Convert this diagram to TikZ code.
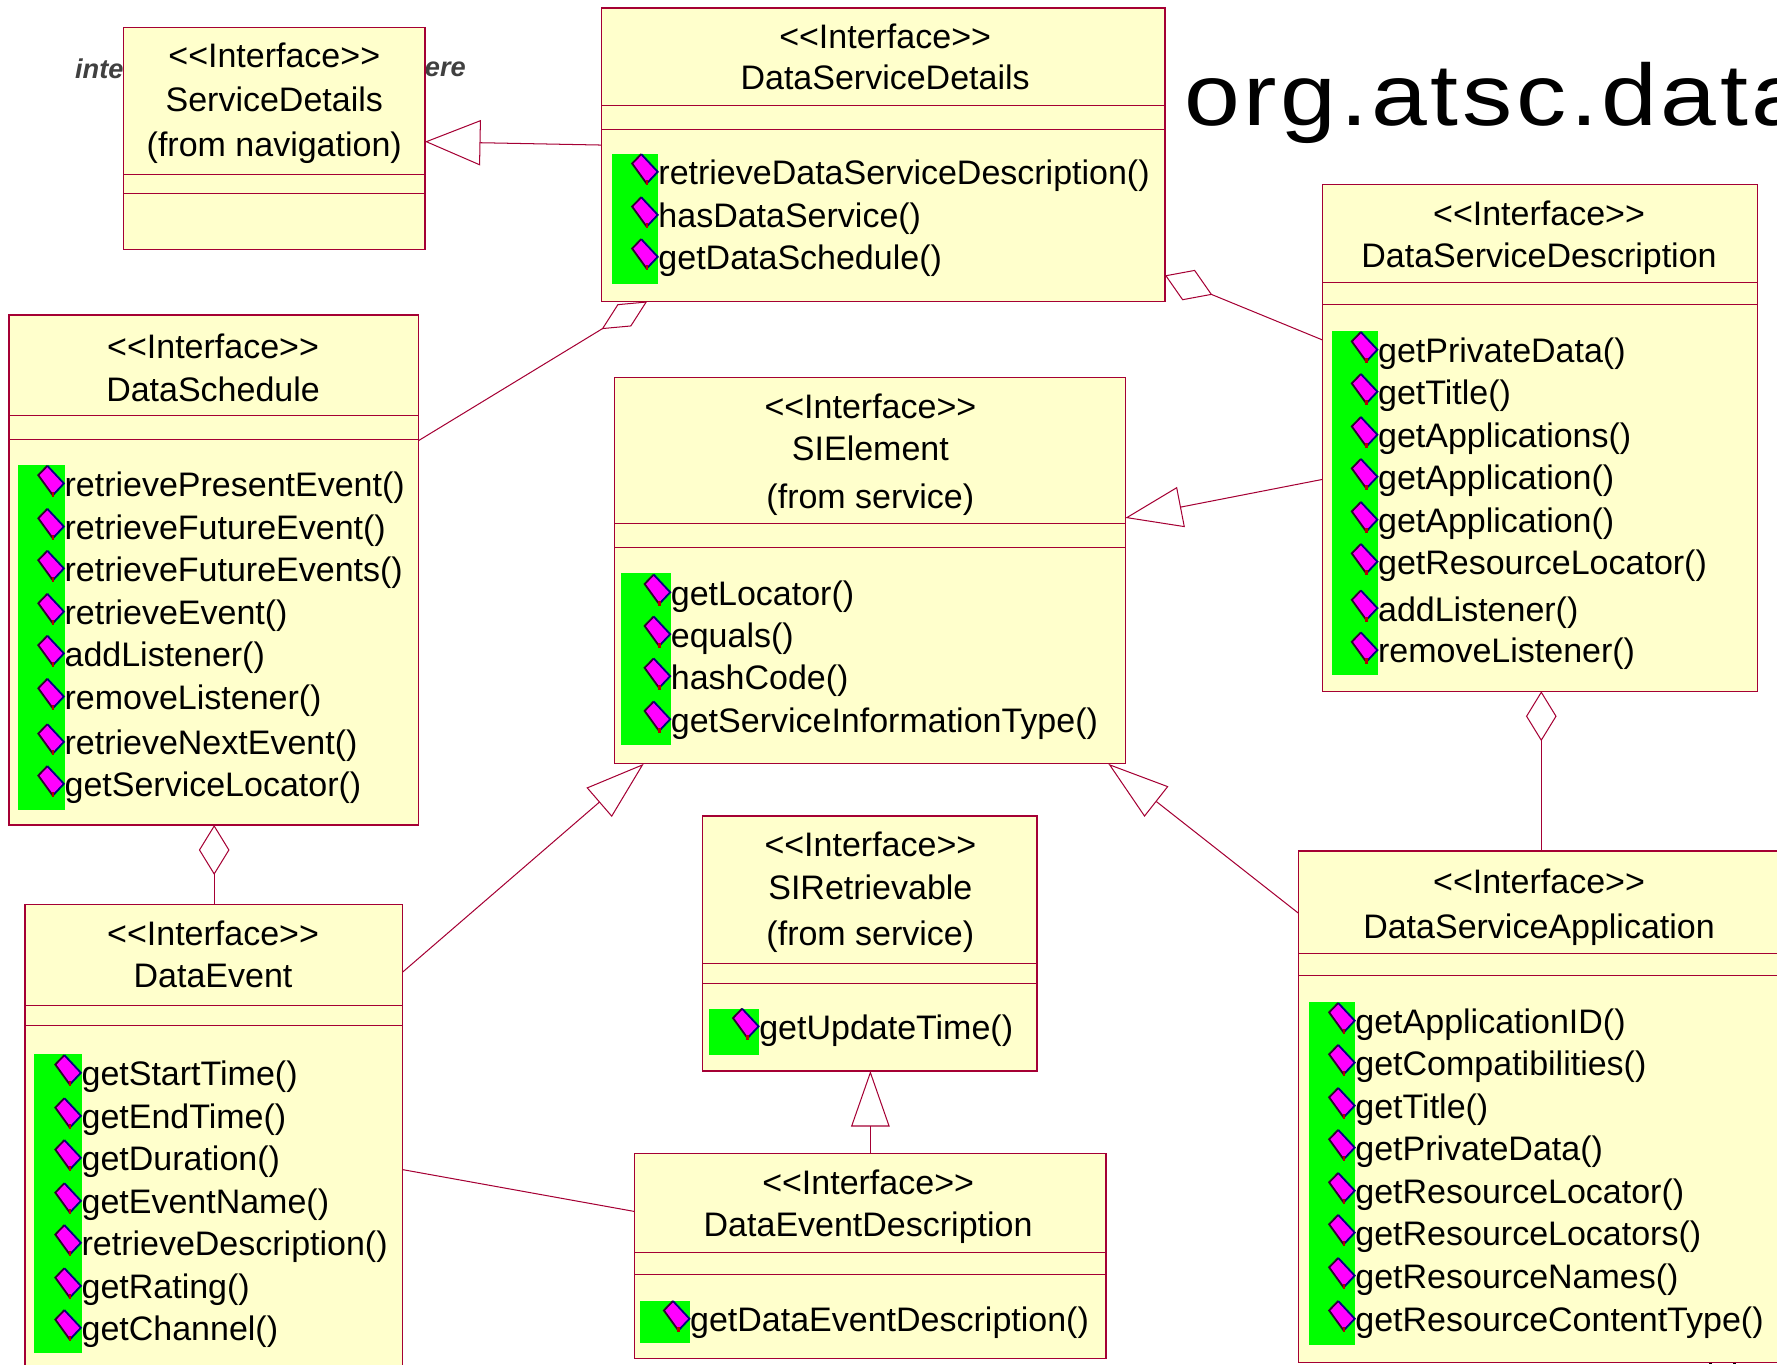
\documentclass[tikz,border=0pt]{standalone}
\usepackage{fontspec}
\usepackage{graphicx}
\setmainfont{Liberation Sans}
\newfontfamily\bigfont[LetterSpace=3.6]{Liberation Sans}
\usetikzlibrary{fit,arrows.meta}
\pgfdeclarelayer{bg}
\pgfsetlayers{bg,main}
\definecolor{umlline}{HTML}{A50034}
\definecolor{umlfill}{HTML}{FFFFCC}
\definecolor{iconblue}{HTML}{000080}
\definecolor{icondark}{HTML}{300030}
\definecolor{iconpink}{HTML}{FF00FF}
\definecolor{icongreen}{HTML}{00FF00}
\tikzset{
  umlbox/.style={draw=umlline,fill=umlfill,line width=1.1pt,inner sep=0pt,outer sep=0pt},
  sepline/.style={draw=umlline,line width=0.9pt},
  titletext/.style={inner sep=0pt,outer sep=0pt,anchor=center,text height=22pt,text depth=0pt,font=\fontsize{30}{32}\selectfont,text=black},
  methodtext/.style={inner sep=0pt,outer sep=0pt,anchor=west,text height=22pt,text depth=0pt,font=\fontsize{30}{32}\selectfont,text=black},
  conn/.style={draw=umlline,line width=0.9pt,line join=miter},
  gentip/.style args={#1/#2}{-{Triangle[open,fill=white,length=#1pt,width=#2pt]}},
  aggtip/.style args={#1/#2}{-{Diamond[open,fill=white,length=#1pt,width=#2pt]}},
  hiddentext/.style={inner sep=0pt,outer sep=0pt,font=\fontsize{24}{26}\selectfont\bfseries\itshape,text=black!75},
  bigtext/.style={inner sep=0pt,outer sep=0pt,anchor=base west,font=\bigfont\fontsize{77}{80}\selectfont,text=black},
}
% name, x1, y1, x2, y2, sep1, sep2
\newcommand{\umlclass}[7]{%
  \node[umlbox,fit={(#2,#3)(#4,#5)}] (#1) {};
  \draw[sepline] (#1.west |- 0,#6) -- (#1.east |- 0,#6);
  \draw[sepline] (#1.west |- 0,#7) -- (#1.east |- 0,#7);
}
% box name, centre x, list text/y
\newcommand{\umltitle}[3]{%
  \foreach \t/\y in {#3}{\node[titletext] (#1-t\y) at (#2,\y) {\t};}
}
\newcommand{\umlicon}[2]{%
  \begin{scope}[shift={(#1,#2)}]
    \fill[iconpink] (-3.2,-13)--(11.4,2.6)--(1.6,13)--(-11.2,-4.7)--cycle;
    \draw[icondark,line width=1.6pt] (1.6,13)--(-11.2,-4.7)--(-3.2,-13);
    \draw[iconblue,line width=1.6pt] (-3.2,-13)--(11.4,2.6)--(1.6,13);
    \fill[red!70!black] (0.6,10) rectangle (3,14.5);
  \end{scope}
}
% box name, green x1, green y1, green y2, text x, list text/y
\newcommand{\umlmethods}[6]{%
  \fill[icongreen] (#2,#3) rectangle (#5,#4);
  \foreach \t/\y in {#6}{%
    \pgfmathsetmacro{\ix}{#5-12}\pgfmathsetmacro{\iy}{\y-3}
    \umlicon{\ix}{\iy}
    \node[methodtext] (#1-m\y) at (#5,\y) {\t()};
  }
}
\begin{document}
\begin{tikzpicture}[x=1pt,y=-1pt]
\useasboundingbox (0,0) rectangle (1568,1204);
\clip (0,0) rectangle (1568,1204);

\node[bigtext] (pkg) at (1045,110.5) {\scalebox{1.15}[1]{org.atsc.data}};

\fill[black] (1508,1202) rectangle (1511,1204);
\fill[black] (1529,1202) rectangle (1532,1204);

\umlclass{sd}{109}{24}{375}{220}{154}{171}
\umltitle{sd}{242}{{<{}<Interface>{}>}/49,ServiceDetails/87,(from navigation)/127}

\umlclass{dsd}{531}{7}{1028}{266}{93}{114}
\umltitle{dsd}{781}{{<{}<Interface>{}>}/32,DataServiceDetails/68}
\umlmethods{dsd}{540}{136}{251}{581}{retrieveDataServiceDescription/152,hasDataService/190,getDataSchedule/227}

\umlclass{dsc}{8}{278}{369}{728}{367}{388}
\umltitle{dsc}{188}{{<{}<Interface>{}>}/305,DataSchedule/343}
\umlmethods{dsc}{16}{410}{715}{57}{retrievePresentEvent/427,retrieveFutureEvent/465,retrieveFutureEvents/502,retrieveEvent/540,addListener/577,removeListener/615,retrieveNextEvent/655,getServiceLocator/692}

\umlclass{de}{22}{798}{355}{1230}{887}{905}
\umltitle{de}{188}{{<{}<Interface>{}>}/823,DataEvent/860}
\umlmethods{de}{30}{930}{1194}{72}{getStartTime/947,getEndTime/985,getDuration/1022,getEventName/1060,retrieveDescription/1097,getRating/1135,getChannel/1172}

\umlclass{si}{542}{333}{993}{674}{462}{483}
\umltitle{si}{768}{{<{}<Interface>{}>}/358,SIElement/395,(from service)/438}
\umlmethods{si}{548}{506}{657}{592}{getLocator/523,equals/560,hashCode/597,getServiceInformationType/635}

\umlclass{sr}{620}{720}{915}{945}{850}{868}
\umltitle{sr}{768}{{<{}<Interface>{}>}/745,SIRetrievable/783,(from service)/823}
\umlmethods{sr}{626}{890}{931}{670}{getUpdateTime/906}

\umlclass{ded}{560}{1018}{976}{1199}{1105}{1125}
\umltitle{ded}{766}{{<{}<Interface>{}>}/1043,DataEventDescription/1080}
\umlmethods{ded}{565}{1148}{1185}{609}{getDataEventDescription/1164}

\umlclass{dsn}{1167}{163}{1551}{610}{249}{269}
\umltitle{dsn}{1358}{{<{}<Interface>{}>}/188,DataServiceDescription/225}
\umlmethods{dsn}{1175}{292}{596}{1216}{getPrivateData/309,getTitle/346,getApplications/384,getApplication/421,getApplication/459,getResourceLocator/496,addListener/537,removeListener/574}

\umlclass{dsa}{1146}{751}{1600}{1202}{841}{861}
\umltitle{dsa}{1358}{{<{}<Interface>{}>}/777,DataServiceApplication/817}
\umlmethods{dsa}{1155}{884}{1187}{1196}{getApplicationID/901,getCompatibilities/938,getTitle/976,getPrivateData/1013,getResourceLocator/1051,getResourceLocators/1088,getResourceNames/1126,getResourceContentType/1164}

\begin{pgfonlayer}{bg}
  \clip (0,0) rectangle (1568,1204);
  \node[hiddentext,anchor=east] (hidl) at (109,61) {inte};
  \node[hiddentext,anchor=west] (hidr) at (375,61) {ere};
  \draw[conn,gentip=49/40] (dsd.west |- 0,128) -- (sd.east |- 0,125);
  \draw[conn,gentip=50/36] (dsn.west |- 0,423) -- (si.east |- 0,457);
  \draw[conn,gentip=52/34] (de.east |- 0,858) -- (si.south -| 568,0);
  \draw[conn,gentip=54/34] (dsa.west |- 0,806) -- (si.south -| 978,0);
  \draw[conn,gentip=49/34] (ded.north -| 768,0) -- (sr.south -| 768,0);
  \draw[conn] (de.east |- 0,1032) -- (ded.west |- 0,1069);
  \draw[conn,aggtip=47/23] (dsc.east |- 0,389) -- (dsd.south -| 571,0);
  \draw[conn,aggtip=45/29] (dsn.west |- 0,300) -- (dsd.east |- 0,243);
  \draw[conn,aggtip=44/27] (dsa.north -| 1360,0) -- (dsn.south -| 1360,0);
  \draw[conn,aggtip=44/27] (de.north -| 189,0) -- (dsc.south -| 189,0);
\end{pgfonlayer}
\end{tikzpicture}
\end{document}
